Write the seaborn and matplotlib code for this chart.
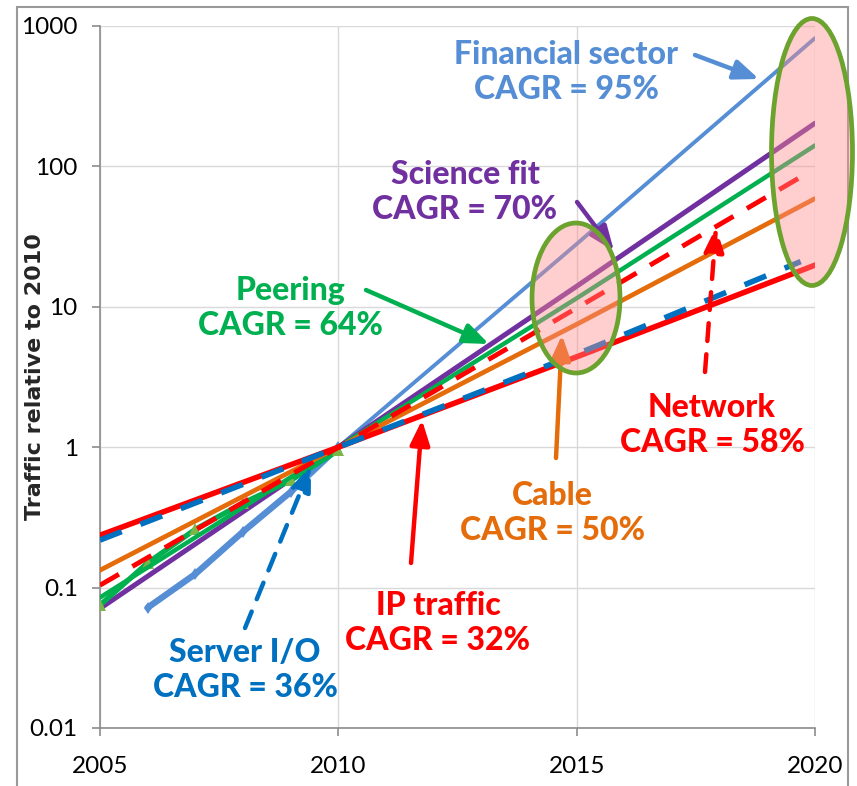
import matplotlib
matplotlib.use("Agg")
import matplotlib.pyplot as plt
import seaborn as sns
import numpy as np
import pandas as pd
from matplotlib.patches import Ellipse, Rectangle

# ---------------- data ----------------
years_fit = [2005, 2010, 2015, 2020]
science_fit = [0.071, 1.0, 14.0, 203.0]
peering_fit = [0.085, 1.0, 11.5, 141.0]
cable_fit = [0.133, 1.0, 7.5, 59.0]
ip_traffic_fit = [0.236, 1.0, 4.4, 19.8]

years_short = [2005, 2010, 2015, 2019.7]
network_fit = [0.104, 1.0, 9.8, 84.0]
server_io_fit = [0.218, 1.0, 4.6, 21.0]

fin_years_data = [2006, 2007, 2008, 2009, 2010]
fin_data = [0.072, 0.125, 0.25, 0.48, 1.0]
fin_years_fit = [2010, 2015, 2020]
fin_fit = [1.0, 28.0, 820.0]

peer_years_data = [2005, 2006, 2007, 2008, 2009, 2010]
peer_data = [0.075, 0.15, 0.26, 0.40, 0.58, 0.95]

x_ticks = [2005, 2010, 2015, 2020]
y_ticks = [0.01, 0.1, 1, 10, 100, 1000]
y_tick_labels = ["0.01", "0.1", "1", "10", "100", "1000"]

labels = ["Financial sector\nCAGR = 95%", "Science fit\nCAGR = 70%",
          "Peering\nCAGR = 64%", "Network\nCAGR = 58%", "Cable\nCAGR = 50%",
          "IP traffic\nCAGR = 32%", "Server I/O\nCAGR = 36%"]

# ---------------- style ----------------
sns.set_theme(style="white")
plt.rcParams["font.family"] = ["Lato", "DejaVu Sans"]

C_FIN = "#558ED5"
C_SCI = "#7030A0"
C_PEER = "#00B050"
C_RED = "#FF0000"
C_CABLE = "#E46C0A"
C_SRV = "#0070C0"
C_ELL = "#6CA22E"

W, H = 857, 786
fig = plt.figure(figsize=(W / 100, H / 100), dpi=100)
fig.patch.set_facecolor("white")
ax = fig.add_axes([100 / W, 1 - 728 / H, 715 / W, 702 / H])
ax.set_yscale("log")


def fp(px, py):
    return (px / W, 1 - py / H)


# ---------------- lines ----------------
sns.lineplot(x=fin_years_data, y=fin_data, ax=ax, color=C_FIN, linewidth=4.6,
             marker="d", markersize=6, markeredgewidth=0, zorder=4)
sns.lineplot(x=fin_years_fit, y=fin_fit, ax=ax, color=C_FIN, linewidth=2.8, zorder=4)
sns.lineplot(x=years_fit, y=science_fit, ax=ax, color=C_SCI, linewidth=3.6, zorder=5)
sns.lineplot(x=peer_years_data, y=peer_data, ax=ax, color=C_PEER, linewidth=3.8,
             marker="^", markersize=9, markerfacecolor="#7AB648",
             markeredgewidth=0, zorder=5)
sns.lineplot(x=years_fit, y=peering_fit, ax=ax, color=C_PEER, linewidth=3.2, zorder=5)
sns.lineplot(x=years_fit, y=cable_fit, ax=ax, color=C_CABLE, linewidth=3.4, zorder=5)
sns.lineplot(x=years_short, y=network_fit, ax=ax, color=C_RED, linewidth=3.5,
             linestyle=(0, (4.5, 3.2)), zorder=6)
sns.lineplot(x=years_fit, y=ip_traffic_fit, ax=ax, color=C_RED, linewidth=4.0, zorder=6)
sns.lineplot(x=years_short, y=server_io_fit, ax=ax, color=C_SRV, linewidth=4.0,
             linestyle=(0, (4.2, 3.6)), zorder=7)

# ---------------- axes ----------------
ax.set_xlim(2005, 2020)
ax.set_ylim(0.01, 1000)
ax.set_xticks(x_ticks)
ax.set_xticklabels([str(t) for t in x_ticks])
ax.set_yticks(y_ticks)
ax.set_yticklabels(y_tick_labels)
ax.yaxis.set_minor_locator(matplotlib.ticker.NullLocator())
ax.grid(True, color="#D9D9D9", linewidth=1.0)
ax.set_axisbelow(True)
for s in ["top", "right"]:
    ax.spines[s].set_visible(False)
for s in ["left", "bottom"]:
    ax.spines[s].set_color("#8C8C8C")
    ax.spines[s].set_linewidth(1.2)
ax.tick_params(axis="y", which="major", length=6, width=1.2, color="#8C8C8C",
               pad=10, labelsize=17.5, labelcolor="black", left=True)
ax.tick_params(axis="x", which="major", length=6, width=1.2, color="#8C8C8C",
               pad=14, labelsize=17.5, labelcolor="black", bottom=True)
ax.set_ylabel("Traffic relative to 2010", fontsize=16, fontweight="bold",
              family=["DejaVu Sans"])
ax.yaxis.set_label_coords((45 - 100) / 715, 0.5)
ax.set_xlabel("")

# ---------------- ellipses ----------------
for (cx, cy, ew, eh) in [(576, 298, 88, 150), (812, 152, 81, 267)]:
    e = Ellipse(fp(cx, cy), ew / W, eh / H, transform=fig.transFigure,
                facecolor=(1.0, 0.55, 0.55, 0.42), edgecolor=C_ELL,
                linewidth=3.4, zorder=10, clip_on=False)
    fig.add_artist(e)

# ---------------- annotations ----------------
text_specs = [
    (labels[0], C_FIN, 566, 72),
    (labels[1], C_SCI, 465, 192),
    (labels[2], C_PEER, 290, 308),
    (labels[3], C_RED, 712, 425),
    (labels[4], C_CABLE, 552, 513),
    (labels[5], C_RED, 438, 623),
    (labels[6], C_SRV, 245, 670),
]
for txt, col, cx, cy in text_specs:
    fig.text(*fp(cx, cy), txt, ha="center", va="center", fontsize=23,
             fontweight="black", color=col, linespacing=1.25, zorder=12)

arrow_specs = [
    (C_FIN, (695, 55), (759, 79), "-"),
    (C_SCI, (577, 202), (614, 251), "-"),
    (C_PEER, (366, 290), (489, 344), "-"),
    (C_CABLE, (556, 458), (562, 335), "-"),
    (C_RED, (411, 563), (422, 420), "-"),
    (C_RED, (705, 372), (716, 227), (0, (4, 3))),
    (C_SRV, (245, 628), (311, 466), (0, (4, 3))),
]
for col, tail, head, ls in arrow_specs:
    ax.annotate("", xy=fp(*head), xycoords="figure fraction",
                xytext=fp(*tail), textcoords="figure fraction",
                arrowprops=dict(arrowstyle="-|>,head_length=0.75,head_width=0.3",
                                color=col, lw=3.2, linestyle=ls,
                                mutation_scale=20, shrinkA=0, shrinkB=0),
                zorder=11, annotation_clip=False)

# ---------------- outer frame ----------------
fig.add_artist(Rectangle((17 / W, -0.01), (848 - 17) / W, 1 - 7 / H + 0.01,
                         transform=fig.transFigure, fill=False,
                         edgecolor="#9A9A9A", linewidth=1.5, zorder=0))

fig.savefig("out.png", dpi=100, facecolor="white")
